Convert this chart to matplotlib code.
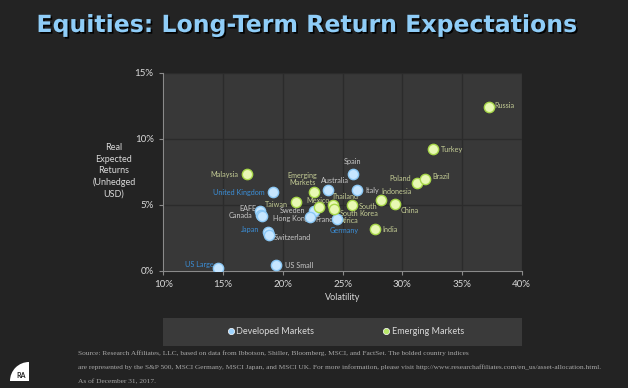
import matplotlib

matplotlib.use("Agg")
import matplotlib.pyplot as plt
import matplotlib.patheffects as pe
from matplotlib.lines import Line2D
from matplotlib.patches import Rectangle, Wedge

# ===================== DATA =====================
dev_names = ["US Large", "US Small", "United Kingdom", "EAFE", "Canada", "Hong Kong",
             "Japan", "Switzerland", "Sweden", "France", "Australia", "Germany",
             "Spain", "Italy"]
dev_vol = [14.6, 19.4, 19.2, 18.1, 18.2, 18.3, 18.8, 18.85, 22.65, 22.3, 23.8, 24.55,
           25.85, 26.2]
dev_ret = [0.2, 0.43, 5.96, 4.55, 4.24, 4.15, 2.98, 2.73, 4.55, 4.11, 6.16, 3.92,
           7.37, 6.16]

em_names = ["Malaysia", "Taiwan", "Emerging\nMarkets", "Mexico", "Thailand",
            "South\nAfrica", "South\nKorea", "India", "Indonesia", "China", "Poland",
            "Brazil", "Turkey", "Russia"]
em_vol = [17.0, 21.1, 22.65, 23.0, 24.2, 24.3, 25.8, 27.7, 28.2, 29.4, 31.25, 31.9,
          32.6, 37.3]
em_ret = [7.3, 5.2, 6.0, 4.87, 5.0, 4.7, 5.0, 3.16, 5.38, 5.05, 6.64, 6.97, 9.22, 12.4]

# indices shown in bold blue in the original
bolded = ["US Large", "United Kingdom", "Japan", "Germany"]

x_ticks = [10, 15, 20, 25, 30, 35, 40]
y_ticks = [0, 5, 10, 15]
# ================================================

# label offsets in pixels (dx, dy, ha)
LABEL_POS = {
    "US Large": (-5, 4, "right"),
    "US Small": (9, 0, "left"),
    "United Kingdom": (-9, 0, "right"),
    "EAFE": (-4, 2, "right"),
    "Canada": (-9, -1, "right"),
    "Hong Kong": (11, -2, "left"),
    "Japan": (-9, 2, "right"),
    "Switzerland": (5, -3, "left"),
    "Sweden": (-9, 0, "right"),
    "France": (5, -3, "left"),
    "Australia": (7, 9, "center"),
    "Germany": (7, -11, "center"),
    "Spain": (0, 12, "center"),
    "Italy": (9, -1, "left"),
    "Malaysia": (-9, 0, "right"),
    "Taiwan": (-8, -2, "right"),
    "Emerging\nMarkets": (-12, 13, "center"),
    "Mexico": (-1, 6, "center"),
    "Thailand": (12, 8, "center"),
    "South\nAfrica": (6, -8, "left"),
    "South\nKorea": (7, -5, "left"),
    "India": (8, 0, "left"),
    "Indonesia": (16, 8, "center"),
    "China": (6, -6, "left"),
    "Poland": (-6, 5, "right"),
    "Brazil": (7, 2, "left"),
    "Turkey": (8, 0, "left"),
    "Russia": (5, 2, "left"),
}

BG = "#232323"
PLOT_BG = "#383838"
GRID = "#2b2b2b"
DEV_FILL, DEV_EDGE = "#c6e6ff", "#8cc8f5"
EM_FILL, EM_EDGE = "#e8f8b4", "#a8d84a"
DEV_TXT, EM_TXT, BOLD_TXT = "#c8c8c8", "#c4cc95", "#3b8fd8"
FONT = "Lato"

plt.rcParams["font.family"] = [FONT, "DejaVu Sans"]

W, H = 628, 388
fig = plt.figure(figsize=(W / 100, H / 100), dpi=100)
fig.patch.set_facecolor(BG)

ax = fig.add_axes([163.3 / W, 1 - 271 / H, (521.7 - 163.3) / W, (271 - 72.7) / H])
ax.set_facecolor(PLOT_BG)
ax.set_xlim(10, 40)
ax.set_ylim(0, 15)
ax.set_xticks(x_ticks)
ax.set_yticks(y_ticks)
ax.set_xticklabels([f"{t}%" for t in x_ticks])
ax.set_yticklabels([f"{t}%" for t in y_ticks])
ax.grid(True, color=GRID, linewidth=1)
ax.set_axisbelow(True)
for s in ["top", "right"]:
    ax.spines[s].set_visible(False)
for s in ["left", "bottom"]:
    ax.spines[s].set_color("#8a8a8a")
    ax.spines[s].set_linewidth(0.8)
ax.tick_params(colors="#8a8a8a", labelcolor="#d9d9d9", labelsize=7, length=3,
               width=0.8)
ax.tick_params(axis="y", pad=4)
ax.set_xlabel("Volatility", color="#d9d9d9", fontsize=6.5, labelpad=3)

ax.scatter(dev_vol, dev_ret, s=55, facecolor=DEV_FILL, edgecolor=DEV_EDGE,
           linewidth=1, zorder=4)
ax.scatter(em_vol, em_ret, s=55, facecolor=EM_FILL, edgecolor=EM_EDGE,
           linewidth=1, zorder=5)


def put_labels(names, xs, ys, color):
    for n, x, y in zip(names, xs, ys):
        dx, dy, ha = LABEL_POS[n]
        c = BOLD_TXT if n in bolded else color
        ax.annotate(n, (x, y), xytext=(dx, dy), textcoords="offset pixels",
                    ha=ha, va="center", fontsize=5.2, color=c, zorder=3,
                    linespacing=0.95, multialignment="center" if ha == "center" else ha)


put_labels(dev_names, dev_vol, dev_ret, DEV_TXT)
put_labels(em_names, em_vol, em_ret, EM_TXT)

# y axis label, horizontal block on the left
fig.text(114 / W, 1 - 171 / H, "Real\nExpected\nReturns\n(Unhedged\nUSD)",
         ha="center", va="center", fontsize=6.5, color="#d9d9d9", linespacing=1.35)

# title with drop shadow
fig.text(307 / W, 1 - 32 / H, "Equities: Long-Term Return Expectations",
         ha="center", va="baseline", fontsize=17, fontweight="bold",
         color="#8fcdf8", family="DejaVu Sans",
         path_effects=[pe.withSimplePatchShadow(offset=(1.2, -1.2),
                                                shadow_rgbFace="black", alpha=0.9)])

# legend box
fig.add_artist(Rectangle((163.3 / W, 1 - 346 / H), (521.7 - 163.3) / W, 28 / H,
                         transform=fig.transFigure, facecolor="#3a3a3a",
                         edgecolor="none"))
handles = [
    Line2D([], [], marker="o", linestyle="none", markersize=4.5,
           markerfacecolor="#9ed4ff", markeredgecolor="white", markeredgewidth=0.5),
    Line2D([], [], marker="o", linestyle="none", markersize=4.5,
           markerfacecolor="#b8e86a", markeredgecolor="white", markeredgewidth=0.5),
]
leg = fig.legend(handles, ["Developed Markets", "Emerging Markets"], ncol=2,
                 loc="center", bbox_to_anchor=(345 / W, 1 - 332 / H),
                 frameon=False, fontsize=6.5, handletextpad=0.1,
                 columnspacing=7.5, handlelength=1.0)
for t in leg.get_texts():
    t.set_color("#d9d9d9")

# footer
footer = [
    "Source: Research Affiliates, LLC, based on data from Ibbotson, Shiller, Bloomberg, "
    "MSCI, and FactSet. The bolded country indices",
    "are represented by the S&P 500, MSCI Germany, MSCI Japan, and MSCI UK. For more "
    "information, please visit http://www.researchaffiliates.com/en_us/asset-allocation.html.",
    "As of December 31, 2017.",
]
for i, line in enumerate(footer):
    fig.text(78 / W, 1 - (353 + i * 14.5) / H, line, ha="left", va="center",
             fontsize=5.3, color="#a8a8a8", family="Liberation Serif")

# logo
lax = fig.add_axes([10 / W, 1 - 381 / H, 19 / W, 19 / H])
lax.set_xlim(0, 1)
lax.set_ylim(0, 1)
lax.axis("off")
lax.add_patch(Wedge((1, 0), 1, 90, 180, facecolor="white", edgecolor="none"))
lax.text(0.6, 0.3, "RA", ha="center", va="center", fontsize=5, fontweight="bold",
         color="#232323")

fig.savefig("out.png", dpi=100, facecolor=BG)
